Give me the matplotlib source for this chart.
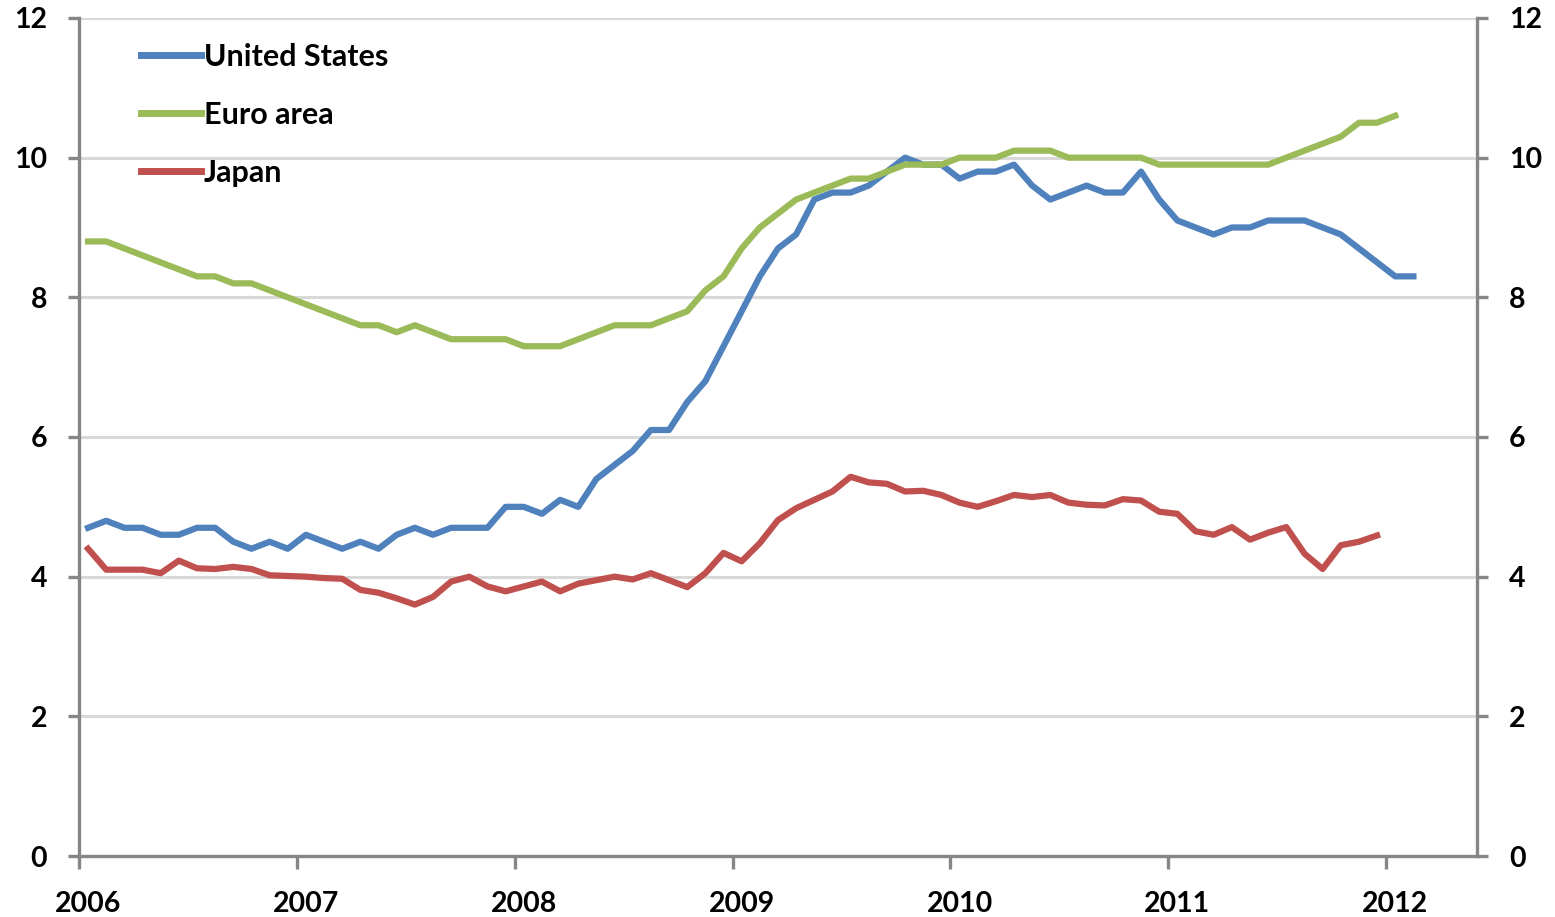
import matplotlib
matplotlib.use("Agg")
import matplotlib.pyplot as plt

plt.rcParams['font.family'] = ['Lato', 'DejaVu Sans']

# monthly unemployment rates, Jan 2006 onwards
us = [4.7, 4.8, 4.7, 4.7, 4.6, 4.6, 4.7, 4.7, 4.5, 4.4, 4.5, 4.4,
      4.6, 4.5, 4.4, 4.5, 4.4, 4.6, 4.7, 4.6, 4.7, 4.7, 4.7, 5.0,
      5.0, 4.9, 5.1, 5.0, 5.4, 5.6, 5.8, 6.1, 6.1, 6.5, 6.8, 7.3,
      7.8, 8.3, 8.7, 8.9, 9.4, 9.5, 9.5, 9.6, 9.8, 10.0, 9.9, 9.9,
      9.7, 9.8, 9.8, 9.9, 9.6, 9.4, 9.5, 9.6, 9.5, 9.5, 9.8, 9.4,
      9.1, 9.0, 8.9, 9.0, 9.0, 9.1, 9.1, 9.1, 9.0, 8.9, 8.7, 8.5,
      8.3, 8.3]
euro = [8.8, 8.8, 8.7, 8.6, 8.5, 8.4, 8.3, 8.3, 8.2, 8.2, 8.1, 8.0,
        7.9, 7.8, 7.7, 7.6, 7.6, 7.5, 7.6, 7.5, 7.4, 7.4, 7.4, 7.4,
        7.3, 7.3, 7.3, 7.4, 7.5, 7.6, 7.6, 7.6, 7.7, 7.8, 8.1, 8.3,
        8.7, 9.0, 9.2, 9.4, 9.5, 9.6, 9.7, 9.7, 9.8, 9.9, 9.9, 9.9,
        10.0, 10.0, 10.0, 10.1, 10.1, 10.1, 10.0, 10.0, 10.0, 10.0, 10.0, 9.9,
        9.9, 9.9, 9.9, 9.9, 9.9, 9.9, 10.0, 10.1, 10.2, 10.3, 10.5, 10.5,
        10.6]
japan = [4.4, 4.1, 4.1, 4.1, 4.05, 4.23, 4.12, 4.11, 4.14, 4.11, 4.02, 4.01,
         4.0, 3.98, 3.97, 3.81, 3.77, 3.69, 3.6, 3.71, 3.93, 4.0, 3.86, 3.79,
         3.86, 3.93, 3.79, 3.9, 3.95, 4.0, 3.96, 4.05, 3.95, 3.85, 4.05, 4.34,
         4.22, 4.48, 4.81, 4.98, 5.1, 5.22, 5.43, 5.35, 5.33, 5.22, 5.23, 5.17,
         5.06, 5.0, 5.08, 5.17, 5.14, 5.17, 5.06, 5.03, 5.02, 5.11, 5.09, 4.93,
         4.9, 4.65, 4.6, 4.71, 4.53, 4.63, 4.71, 4.33, 4.11, 4.45, 4.5, 4.59]
years = [2006, 2007, 2008, 2009, 2010, 2011, 2012]
yticks = [0, 2, 4, 6, 8, 10, 12]

def months(n):
    # points sit in the middle of each month
    return [2006 + (i + 0.5) / 12 for i in range(n)]

fig = plt.figure(figsize=(15.55, 9.17), dpi=100)
ax = fig.add_axes([0.0508, 0.0665, 0.8990, 0.9139])

lw = 4.5
ax.plot(months(len(us)), us, color='#4F81BD', lw=lw, label='United States')
ax.plot(months(len(euro)), euro, color='#9BBB59', lw=lw, label='Euro area')
ax.plot(months(len(japan)), japan, color='#C0504D', lw=lw, label='Japan')

ax.set_xlim(2006, 2006 + 77 / 12)
ax.set_ylim(0, 12)
ax.set_yticks(yticks)
ax.yaxis.grid(True, color='#D9D9D9', lw=2.2)
ax.set_axisbelow(True)

gray = '#868686'
ax.spines['top'].set_visible(False)
for s in ['left', 'bottom', 'right']:
    ax.spines[s].set_color(gray)
    ax.spines[s].set_linewidth(2.4)

fs = 20.5
ax.set_xticks(years)
ax.set_xticklabels([])
ax.set_xticks([y + 0.5 / 12 for y in years], minor=True)
ax.set_xticklabels([str(y) for y in years], minor=True)
ax.tick_params(axis='x', which='major', length=9, width=2.4, color=gray, direction='out')
ax.tick_params(axis='x', which='minor', length=0, pad=25, labelsize=fs)
ax.tick_params(axis='y', length=8, width=2.4, color=gray, direction='out',
               pad=15, labelsize=fs, left=True, right=True, labelright=True)
for lab in ax.get_xticklabels(minor=True):
    lab.set_fontweight('bold')
for t in ax.yaxis.get_major_ticks():
    t.label1.set_fontweight('bold')
    t.label2.set_fontweight('bold')

leg = ax.legend(loc='upper left', bbox_to_anchor=(0.025, 1.003), frameon=False,
                handlelength=1.95, handletextpad=0.1, labelspacing=0.98,
                prop={'size': 22, 'weight': 'bold'})
for l in leg.get_lines():
    l.set_linewidth(5)

fig.savefig('out.png', dpi=100)
